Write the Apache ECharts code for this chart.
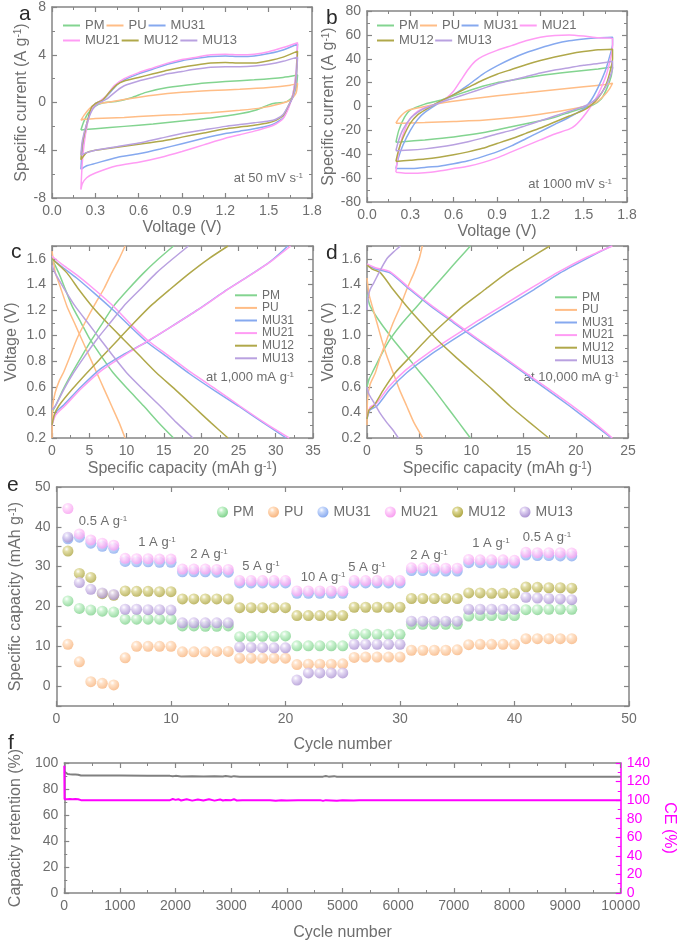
<!DOCTYPE html>
<html>
<head>
<meta charset="utf-8">
<script src="https://cdn.jsdelivr.net/npm/echarts@6/dist/echarts.min.js"></script>
<style>html,body{margin:0;padding:0;background:#fff}#view{width:685px;height:946px}</style>
</head>
<body>
<div id="view"></div>
<script>
var samples = ['PM', 'PU', 'MU31', 'MU21', 'MU12', 'MU13'];
var lineColors = ['#83d490', '#ffbd86', '#86a9ef', '#ff9cf4', '#b0a84a', '#b9a1e0'];
var ballColors = [['#c4f2ca', '#7ccf89'], ['#ffdcbd', '#f7b27b'], ['#c8d9fb', '#84a7ee'],
                  ['#ffd4fb', '#f79bef'], ['#dcd792', '#aba33f'], ['#dfd1f2', '#a88fd0']];

// (a) CV at 50 mV/s : [V, A/g]
var cvA_PM = [[0.2,-2.3],[0.22,-1.6],[0.25,-0.9],[0.3,-0.3],[0.35,-0.05],[0.45,0.1],[0.55,0.4],[0.65,0.85],[0.8,1.25],[1.0,1.55],[1.2,1.75],[1.4,1.9],[1.6,2.1],[1.7,2.3],[1.69,1.2],[1.66,0.4],[1.62,0.05],[1.55,-0.05],[1.5,-0.2],[1.42,-0.6],[1.3,-0.95],[1.1,-1.3],[0.9,-1.55],[0.7,-1.8],[0.5,-2.0],[0.3,-2.2],[0.2,-2.3]];
var cvA_PU = [[0.2,-1.5],[0.22,-1.1],[0.26,-0.5],[0.3,-0.15],[0.4,0.05],[0.5,0.25],[0.7,0.6],[0.9,0.85],[1.1,1.0],[1.3,1.1],[1.5,1.25],[1.65,1.45],[1.7,1.6],[1.69,0.8],[1.65,0.2],[1.58,-0.1],[1.45,-0.45],[1.3,-0.65],[1.1,-0.85],[0.9,-1.0],[0.7,-1.1],[0.5,-1.25],[0.3,-1.35],[0.22,-1.4],[0.2,-1.5]];
var cvA_MU31 = [[0.2,-5.6],[0.21,-4],[0.24,-2],[0.27,-0.6],[0.3,-0.1],[0.35,0.2],[0.4,0.8],[0.45,1.5],[0.5,1.9],[0.6,2.4],[0.7,2.8],[0.8,3.2],[0.9,3.5],[1.0,3.7],[1.1,3.85],[1.2,3.9],[1.3,3.85],[1.4,3.9],[1.5,4.1],[1.6,4.4],[1.7,4.9],[1.69,2.5],[1.67,0.8],[1.64,-0.3],[1.6,-1.3],[1.55,-1.7],[1.5,-1.95],[1.4,-2.2],[1.3,-2.4],[1.2,-2.6],[1.05,-3.0],[0.9,-3.45],[0.75,-3.9],[0.6,-4.3],[0.45,-4.6],[0.3,-5.1],[0.24,-5.3],[0.2,-5.6]];
var cvA_MU21 = [[0.2,-7.3],[0.21,-5],[0.23,-2.8],[0.26,-1.0],[0.29,-0.2],[0.33,0.1],[0.38,0.6],[0.43,1.4],[0.5,2.0],[0.6,2.5],[0.7,2.9],[0.8,3.3],[0.9,3.6],[1.0,3.8],[1.1,4.0],[1.2,4.05],[1.3,4.0],[1.4,4.05],[1.5,4.25],[1.6,4.6],[1.7,5.0],[1.69,2.5],[1.67,0.8],[1.64,-0.4],[1.6,-1.35],[1.55,-1.8],[1.5,-2.05],[1.4,-2.4],[1.3,-2.7],[1.2,-3.0],[1.05,-3.55],[0.9,-4.1],[0.75,-4.6],[0.6,-5.0],[0.45,-5.3],[0.3,-5.9],[0.24,-6.3],[0.21,-6.8],[0.2,-7.3]];
var cvA_MU12 = [[0.2,-4.8],[0.21,-3.5],[0.24,-1.8],[0.27,-0.5],[0.3,-0.1],[0.35,0.2],[0.4,0.9],[0.45,1.5],[0.5,1.8],[0.6,2.1],[0.7,2.4],[0.8,2.7],[0.9,2.95],[1.0,3.15],[1.1,3.3],[1.2,3.35],[1.3,3.3],[1.4,3.3],[1.5,3.5],[1.6,3.8],[1.7,4.3],[1.69,2.0],[1.67,0.6],[1.64,-0.2],[1.6,-1.1],[1.55,-1.5],[1.5,-1.7],[1.4,-1.9],[1.3,-2.05],[1.2,-2.2],[1.05,-2.55],[0.9,-2.9],[0.75,-3.25],[0.6,-3.5],[0.45,-3.75],[0.3,-4.0],[0.24,-4.2],[0.2,-4.8]];
var cvA_MU13 = [[0.2,-4.4],[0.21,-3.2],[0.24,-1.8],[0.28,-0.6],[0.32,-0.1],[0.38,0.3],[0.45,1.0],[0.5,1.4],[0.6,1.8],[0.7,2.1],[0.8,2.4],[0.9,2.6],[1.0,2.8],[1.1,2.95],[1.2,3.0],[1.3,3.0],[1.4,3.05],[1.5,3.2],[1.6,3.45],[1.7,3.8],[1.69,1.8],[1.67,0.5],[1.64,-0.2],[1.6,-1.0],[1.55,-1.4],[1.5,-1.55],[1.4,-1.7],[1.3,-1.85],[1.2,-2.0],[1.05,-2.3],[0.9,-2.6],[0.75,-3.0],[0.6,-3.4],[0.45,-3.7],[0.3,-4.0],[0.24,-4.2],[0.2,-4.4]];

// (b) CV at 1000 mV/s
var cvB_PM = [[0.2,-30],[0.22,-20],[0.26,-9],[0.3,-3],[0.4,2],[0.5,5],[0.6,9],[0.7,13],[0.8,17],[0.9,20],[1.0,22],[1.2,26],[1.4,29],[1.6,31.5],[1.7,33],[1.69,25],[1.66,15],[1.62,6],[1.56,1],[1.5,-1],[1.4,-5],[1.3,-9],[1.2,-12],[1.0,-17],[0.8,-22],[0.6,-25.5],[0.4,-28],[0.25,-29.5],[0.2,-30]];
var cvB_PU = [[0.2,-14],[0.22,-10],[0.26,-5],[0.3,-2.5],[0.4,0],[0.5,2.5],[0.7,6],[0.9,9],[1.1,11.5],[1.3,14],[1.5,16.5],[1.65,18.5],[1.7,19.5],[1.68,15],[1.64,9],[1.58,3],[1.5,0],[1.4,-2.5],[1.2,-6.5],[1.0,-9.5],[0.8,-11.5],[0.6,-12.5],[0.4,-13.5],[0.25,-14],[0.2,-14]];
var cvB_MU31 = [[0.2,-52],[0.22,-42],[0.25,-32],[0.3,-20],[0.35,-11],[0.4,-5],[0.5,3],[0.6,10],[0.7,18],[0.8,27],[0.9,34],[1.0,40],[1.1,45],[1.2,49],[1.3,52.5],[1.4,55],[1.5,56.5],[1.6,57.5],[1.7,58],[1.7,52],[1.68,42],[1.65,30],[1.6,16],[1.55,5],[1.5,-2],[1.4,-9],[1.3,-15],[1.2,-21],[1.1,-27],[1.0,-33],[0.9,-38],[0.8,-42],[0.7,-45.5],[0.6,-48],[0.5,-50],[0.4,-51],[0.3,-52],[0.2,-52]];
var cvB_MU21 = [[0.2,-55],[0.21,-45],[0.23,-32],[0.26,-20],[0.3,-10],[0.35,-4],[0.4,-1],[0.5,3],[0.55,7],[0.6,13],[0.65,22],[0.7,31],[0.75,38],[0.8,42],[0.9,47],[1.0,51],[1.1,55],[1.2,58],[1.3,59.5],[1.4,60],[1.5,59],[1.6,57.5],[1.7,57],[1.7,50],[1.68,37],[1.65,24],[1.6,10],[1.56,2],[1.52,-5],[1.48,-11],[1.44,-16],[1.4,-19],[1.3,-23],[1.2,-28],[1.1,-33],[1.0,-38],[0.9,-43],[0.8,-47],[0.7,-50],[0.6,-52],[0.5,-54],[0.4,-55.5],[0.3,-56],[0.2,-55]];
var cvB_MU12 = [[0.2,-46],[0.22,-36],[0.25,-26],[0.3,-14],[0.35,-7],[0.4,-3],[0.5,4],[0.6,10],[0.7,16],[0.8,22],[0.9,27],[1.0,31],[1.1,35],[1.2,38.5],[1.3,41.5],[1.4,44],[1.5,46],[1.6,47.5],[1.7,48],[1.7,40],[1.68,28],[1.65,17],[1.6,7],[1.55,1],[1.5,-3],[1.4,-8],[1.3,-13],[1.2,-18],[1.1,-22.5],[1.0,-27],[0.9,-31],[0.8,-35],[0.7,-38],[0.6,-40.5],[0.5,-42.5],[0.4,-44],[0.3,-45],[0.2,-46]];
var cvB_MU13 = [[0.2,-37],[0.22,-28],[0.25,-19],[0.3,-10],[0.35,-5],[0.4,-1.5],[0.5,3],[0.6,7],[0.7,11],[0.8,15],[0.9,19],[1.0,22],[1.1,25],[1.2,28],[1.3,30.5],[1.4,32.5],[1.5,34.5],[1.6,36],[1.7,38],[1.7,32],[1.68,24],[1.65,16],[1.6,8],[1.55,3],[1.5,0],[1.4,-4],[1.3,-8],[1.2,-12],[1.1,-16],[1.0,-20],[0.9,-23],[0.8,-26.5],[0.7,-29.5],[0.6,-32],[0.5,-34],[0.4,-35.5],[0.3,-36.5],[0.2,-37]];

// (c) GCD at 1,000 mA/g : [mAh/g, V], charge then discharge
var gcdC_PM = [[0,0.4],[0.45,0.45],[1.5,0.58],[2.7,0.71],[4,0.84],[5.35,0.97],[6.8,1.1],[8.25,1.23],[10.2,1.36],[12.3,1.49],[14.3,1.6],[16.3,1.7]];
var gcdC_PM_d = [[0,1.6],[0.9,1.49],[1.8,1.36],[2.7,1.23],[3.9,1.1],[5.1,0.97],[6.6,0.84],[8.2,0.71],[10.2,0.58],[12.3,0.45],[14.3,0.32],[16.3,0.2]];
var gcdC_PU = [[0,0.2],[0.1,0.45],[0.4,0.55],[1,0.65],[1.6,0.72],[2.5,0.85],[3.3,0.97],[4.5,1.11],[5.8,1.25],[7,1.37],[8,1.49],[9,1.6],[9.8,1.7]];
var gcdC_PU_d = [[0,1.66],[0.45,1.49],[1,1.4],[2,1.23],[3,1.1],[4,0.97],[5,0.84],[6,0.71],[7,0.58],[8,0.45],[9,0.32],[9.8,0.2]];
var gcdC_MU31 = [[0,0.3],[0.5,0.4],[1.6,0.46],[3.9,0.6],[6.5,0.74],[9.5,0.85],[12.7,0.95],[16,1.07],[19.5,1.2],[23,1.34],[26.5,1.47],[29.3,1.58],[31.6,1.7]];
var gcdC_MU31_d = [[0,1.6],[1.5,1.53],[3.3,1.45],[5.7,1.33],[8.2,1.2],[10.5,1.07],[12.7,0.95],[15.5,0.83],[18.5,0.7],[21.8,0.57],[25,0.45],[28.3,0.32],[31.4,0.2]];
var gcdC_MU21 = [[0,0.3],[0.5,0.38],[1.7,0.45],[4.0,0.59],[6.7,0.73],[9.8,0.85],[12.9,0.96],[16.3,1.08],[19.8,1.21],[23.3,1.35],[26.8,1.48],[29.6,1.59],[32.0,1.7]];
var gcdC_MU21_d = [[0,1.62],[1.5,1.55],[3.4,1.47],[5.9,1.35],[8.4,1.22],[10.7,1.08],[12.9,0.96],[15.7,0.84],[18.7,0.71],[22.0,0.58],[25.2,0.45],[28.5,0.32],[31.8,0.2]];
var gcdC_MU12 = [[0,0.3],[0.3,0.38],[0.9,0.45],[2.7,0.58],[4.7,0.71],[6.8,0.84],[8.9,0.97],[11,1.1],[13.2,1.23],[15.8,1.36],[18.5,1.49],[21,1.6],[23.6,1.7]];
var gcdC_MU12_d = [[0,1.6],[2.0,1.49],[3.6,1.36],[5.35,1.23],[7.4,1.1],[9.6,0.97],[11.8,0.84],[14.0,0.71],[16.5,0.58],[18.9,0.45],[21.3,0.32],[23.6,0.2]];
var gcdC_MU13 = [[0,0.42],[0.45,0.45],[1.6,0.58],[2.9,0.71],[4.4,0.84],[6.0,0.97],[7.8,1.1],[9.6,1.23],[11.8,1.36],[14.0,1.49],[16.2,1.6],[18.3,1.7]];
var gcdC_MU13_d = [[0,1.55],[0.4,1.49],[1.7,1.36],[3.1,1.23],[4.8,1.1],[6.5,0.97],[8.2,0.84],[10.0,0.71],[12.2,0.58],[14.5,0.45],[16.7,0.32],[18.9,0.2]];

// (d) GCD at 10,000 mA/g
var gcdD_PM = [[0,0.6],[0.2,0.66],[0.5,0.71],[1.3,0.84],[2.2,0.97],[3.4,1.1],[4.8,1.23],[6.2,1.36],[7.6,1.49],[8.8,1.6],[9.9,1.7]];
var gcdD_PM_d = [[0,1.32],[0.3,1.23],[1.3,1.1],[2.5,0.97],[3.8,0.84],[5.1,0.71],[6.4,0.58],[7.6,0.45],[8.8,0.32],[9.9,0.2]];
var gcdD_PU = [[0,0.3],[0.05,0.5],[0.3,0.62],[0.8,0.71],[1.3,0.84],[1.9,0.97],[2.5,1.1],[3.2,1.23],[3.8,1.36],[4.5,1.49],[5.0,1.6],[5.3,1.7]];
var gcdD_PU_d = [[0,1.45],[0.2,1.32],[0.5,1.23],[0.95,1.1],[1.4,0.97],[1.9,0.84],[2.5,0.71],[3.1,0.58],[3.8,0.45],[4.5,0.32],[5.35,0.2]];
var gcdD_MU31 = [[0,0.35],[0.3,0.42],[0.96,0.45],[2.2,0.58],[3.8,0.71],[5.9,0.84],[8.3,0.97],[10.8,1.1],[13.4,1.23],[16,1.36],[18.5,1.49],[21.0,1.6],[23.4,1.7]];
var gcdD_MU31_d = [[0,1.55],[0.8,1.52],[2.2,1.49],[4.1,1.36],[6.1,1.23],[8.3,1.1],[10.5,0.97],[12.8,0.84],[15.0,0.71],[17.2,0.58],[19.4,0.45],[21.5,0.32],[23.4,0.2]];
var gcdD_MU21 = [[0,0.36],[0.3,0.44],[0.9,0.47],[2.1,0.6],[3.7,0.73],[5.8,0.86],[8.2,0.99],[10.7,1.12],[13.3,1.25],[15.9,1.38],[18.4,1.5],[21,1.61],[23.5,1.7]];
var gcdD_MU21_d = [[0,1.56],[0.8,1.53],[2.2,1.5],[4.1,1.37],[6.1,1.24],[8.3,1.11],[10.5,0.98],[12.8,0.85],[15.0,0.72],[17.3,0.59],[19.5,0.46],[21.6,0.33],[23.5,0.2]];
var gcdD_MU12 = [[0,0.35],[0.2,0.42],[0.64,0.45],[1.6,0.58],[2.7,0.71],[4.2,0.84],[5.7,0.97],[7.4,1.1],[9.2,1.23],[11.3,1.36],[13.4,1.49],[15.5,1.6],[17.5,1.7]];
var gcdD_MU12_d = [[0,1.55],[0.5,1.52],[1.3,1.49],[2.5,1.36],[3.8,1.23],[5.2,1.1],[6.7,0.97],[8.4,0.84],[10.2,0.71],[12.0,0.58],[13.7,0.45],[15.6,0.32],[17.4,0.2]];
var gcdD_MU13 = [[0,1.2],[0.1,1.3],[0.3,1.36],[0.64,1.41],[1.2,1.5],[1.9,1.6],[2.5,1.65],[3.2,1.7]];
var gcdD_MU13_d = [[0,0.6],[0.2,0.54],[0.64,0.48],[1.2,0.4],[1.9,0.32],[2.5,0.26],[3.0,0.2]];

// (e) rate capability, mAh/g per cycle
var cycles = [1,2,3,4,5,6,7,8,9,10,11,12,13,14,15,16,17,18,19,20,21,22,23,24,25,26,27,28,29,30,31,32,33,34,35,36,37,38,39,40,41,42,43,44,45];
var rate_PM = [21.4,19.5,19.1,18.8,18.6, 16.8,16.8,16.8,16.8,16.8, 15.1,15.1,15.0,15.0,15.1, 12.4,12.5,12.5,12.5,12.6, 10.1,10.1,10.1,10.1,10.1, 13.0,13.1,13.0,13.0,13.0, 15.5,15.5,15.5,15.5,15.5, 17.6,17.7,17.7,17.7,17.7, 19.2,19.2,19.3,19.3,19.3];
var rate_PU = [10.5,6.1,1.1,0.7,0.3, 7.1,10.0,10.0,10.0,10.0, 8.6,8.6,8.6,8.7,8.7, 7.0,7.0,7.0,7.0,7.0, 5.4,5.5,5.5,5.5,5.6, 7.2,7.3,7.3,7.3,7.3, 9.0,9.0,9.0,9.0,9.1, 10.4,10.5,10.5,10.5,10.5, 11.9,11.9,11.9,11.9,11.9];
var rate_MU31 = [37.0,37.4,35.9,35.1,34.6, 31.3,31.2,31.2,31.1,31.1, 28.7,28.7,28.7,28.6,28.6, 25.9,25.9,25.9,25.9,25.9, 23.3,23.3,23.3,23.3,23.3, 25.9,25.9,25.9,25.9,25.9, 29.0,29.0,28.9,28.9,28.9, 31.0,31.0,30.9,30.9,30.9, 32.9,32.8,32.8,32.7,32.7];
var rate_MU21 = [44.6,38.2,36.7,35.9,35.4, 32.1,32.0,32.0,31.9,31.9, 29.4,29.4,29.4,29.3,29.3, 26.5,26.5,26.5,26.5,26.5, 23.9,23.9,23.9,23.9,23.9, 26.5,26.5,26.5,26.5,26.5, 29.7,29.7,29.6,29.6,29.6, 31.8,31.7,31.7,31.7,31.6, 33.6,33.5,33.5,33.5,33.4];
var rate_MU12 = [33.9,28.3,27.3,23.2,22.8, 23.9,23.8,23.8,23.7,23.7, 21.9,21.9,21.9,21.9,21.9, 19.7,19.7,19.7,19.7,19.7, 17.7,17.7,17.7,17.7,17.7, 19.8,19.8,19.8,19.8,19.8, 22.0,22.0,22.0,22.0,22.0, 23.4,23.4,23.3,23.3,23.3, 24.9,24.8,24.7,24.7,24.6];
var rate_MU13 = [37.4,26.0,24.3,23.4,23.0, 19.3,19.3,19.2,19.2,19.1, 15.9,15.9,15.9,15.9,15.9, 9.8,9.7,9.7,9.6,9.6, 1.5,3.3,3.3,3.3,3.3, 10.5,10.5,10.5,10.5,10.5, 16.3,16.3,16.3,16.3,16.3, 19.3,19.3,19.3,19.3,19.3, 22.3,22.1,22.0,21.9,21.7];
var rateLabels = ['0.5 A g', '1 A g', '2 A g', '5 A g', '10 A g', '5 A g', '2 A g', '1 A g', '0.5 A g'];

// (f) long cycling
var retCycles = [1,10,30,60,100,150,200,250,280,300,600,1000,1500,1900,1950,2000,2100,2300,2500,2700,2850,2900,3000,3050,3150,3200,4000,4650,4700,4750,4850,4900,5000,6000,7000,8000,9000,10000];
var retention = [93.5,92.6,92.0,91.5,91.3,91.2,91.1,91.0,90.6,90.4,90.3,90.3,90.2,90.1,89.8,90.1,89.7,89.9,89.6,89.9,89.6,90.0,89.5,89.9,89.5,89.5,89.5,89.5,90.0,89.5,89.9,89.5,89.5,89.5,89.5,89.4,89.4,89.4];
var ceCycles = [1,5,20,50,100,150,200,250,270,300,1000,1900,1950,2000,2050,2100,2200,2300,2400,2500,2600,2700,2800,2850,2900,3000,3050,3100,3200,3700,3800,3900,4000,4200,4600,4650,4700,4900,5000,5200,5300,6000,8000,10000];
var ce = [137,101,101.5,101,101.3,101,101.2,101,100.5,100,100,100,101.2,100.3,101,99.6,101,99.5,100.8,99.6,101,99.5,100.8,99.6,100.2,100,101,99.6,100,100,99.4,100,99.5,100,100,99.2,100,99.4,100,99.6,100,100,100,100];

var myChart = echarts.init(document.getElementById('view'));
var TX = '#6e6e6e', AX = '#858585', MAG = '#ff00ff', FONT = 'Liberation Sans';
var SUP = { s: { fontSize: 10, verticalAlign: 'top', color: TX, fontFamily: FONT } };

var grids = [
    { left: 52, top: 7, width: 260, height: 191 },
    { left: 367, top: 11, width: 260, height: 191 },
    { left: 52, top: 246, width: 261, height: 192 },
    { left: 367, top: 246, width: 261, height: 192 },
    { left: 52, top: 487, width: 577, height: 219 },
    { left: 52, top: 763, width: 577, height: 130 }
];

var f1 = function (v) { return v.toFixed(1); };
var plain = function (v) { return String(v); };
function every(step, dec) {
    return function (v) {
        var k = v / step;
        return (Math.abs(k - Math.round(k)) < 1e-6 && v > -1e-9) ? v.toFixed(dec) : '';
    };
}

var xAxes = [], yAxes = [];
function axis(gi, o, pos, main) {
    var col = o.color || AX;
    return {
        gridIndex: gi, type: 'value', position: pos,
        min: o.min, max: o.max, interval: o.interval,
        name: main ? o.name : '', nameLocation: 'middle', nameGap: o.gap, nameRotate: o.rotate,
        nameTextStyle: { color: o.nameColor || TX, fontSize: 16, fontFamily: FONT, rich: SUP },
        axisLine: { show: true, onZero: false, lineStyle: { color: col, width: 1.5 } },
        axisTick: { show: true, inside: true, length: 5, lineStyle: { color: col, width: 1.2 } },
        minorTick: { show: !!o.minor, splitNumber: o.minor || 2, length: 3, lineStyle: { color: col, width: 1 } },
        axisLabel: { show: main, color: o.labelColor || TX, fontSize: 14, fontFamily: FONT, margin: 6, formatter: o.fmt || plain },
        splitLine: { show: false }
    };
}
function box(gi, xo, yo, yo2) {
    var r = { x: xAxes.length, y: yAxes.length };
    xAxes.push(axis(gi, xo, 'bottom', true), axis(gi, xo, 'top', false));
    yAxes.push(axis(gi, yo, 'left', true), yo2 ? axis(gi, yo2, 'right', true) : axis(gi, yo, 'right', false));
    return r;
}

var axA = box(0, { min: 0, max: 1.8, interval: 0.3, minor: 2, fmt: f1, name: 'Voltage (V)', gap: 22 },
                 { min: -8, max: 8, interval: 4, minor: 2, name: 'Specific current (A g{s|-1})', gap: 22 });
var axB = box(1, { min: 0, max: 1.8, interval: 0.3, minor: 2, fmt: f1, name: 'Voltage (V)', gap: 22 },
                 { min: -80, max: 80, interval: 20, minor: 2, name: 'Specific current (A g{s|-1})', gap: 26 });
var axC = box(2, { min: 0, max: 35, interval: 5, minor: 2, name: 'Specific capacity (mAh g{s|-1})', gap: 23 },
                 { min: 0.2, max: 1.7, interval: 0.2, minor: 2, fmt: every(0.2, 1), name: 'Voltage (V)', gap: 32 });
var axD = box(3, { min: 0, max: 25, interval: 5, minor: 2, name: 'Specific capacity (mAh g{s|-1})', gap: 23 },
                 { min: 0.2, max: 1.7, interval: 0.2, minor: 2, fmt: every(0.2, 1), name: 'Voltage (V)', gap: 30 });
var axE = box(4, { min: 0, max: 50, interval: 10, minor: 2, name: 'Cycle number', gap: 31 },
                 { min: -5, max: 50, interval: 5, fmt: every(10, 0), name: 'Specific capacity (mAh g{s|-1})', gap: 32 });
var axF = box(5, { min: 0, max: 10000, interval: 1000, minor: 2, name: 'Cycle number', gap: 32 },
                 { min: 0, max: 100, interval: 20, minor: 2, name: 'Capacity retention (%)', gap: 36 },
                 { min: 0, max: 140, interval: 20, minor: 2, name: 'CE (%)', gap: 36, rotate: -90,
                   color: MAG, labelColor: MAG, nameColor: MAG });

function curve(name, i, data, ax) {
    return {
        name: name, type: 'line', xAxisIndex: ax.x, yAxisIndex: ax.y, data: data,
        showSymbol: false, symbol: 'none', smooth: 0.2, silent: true,
        lineStyle: { color: lineColors[i], width: 1.5 }, itemStyle: { color: lineColors[i] }
    };
}
function ball(c) {
    return { type: 'radial', x: 0.38, y: 0.32, r: 0.72,
        colorStops: [{ offset: 0, color: '#ffffff' }, { offset: 0.3, color: c[0] }, { offset: 1, color: c[1] }] };
}

var cvA = [cvA_PM, cvA_PU, cvA_MU31, cvA_MU21, cvA_MU12, cvA_MU13];
var cvB = [cvB_PM, cvB_PU, cvB_MU31, cvB_MU21, cvB_MU12, cvB_MU13];
var gcdC = [[gcdC_PM, gcdC_PM_d], [gcdC_PU, gcdC_PU_d], [gcdC_MU31, gcdC_MU31_d], [gcdC_MU21, gcdC_MU21_d], [gcdC_MU12, gcdC_MU12_d], [gcdC_MU13, gcdC_MU13_d]];
var gcdD = [[gcdD_PM, gcdD_PM_d], [gcdD_PU, gcdD_PU_d], [gcdD_MU31, gcdD_MU31_d], [gcdD_MU21, gcdD_MU21_d], [gcdD_MU12, gcdD_MU12_d], [gcdD_MU13, gcdD_MU13_d]];
var rates = [rate_PM, rate_PU, rate_MU31, rate_MU21, rate_MU12, rate_MU13];

var series = [];
samples.forEach(function (s, i) { series.push(curve(s, i, cvA[i], axA)); });
samples.forEach(function (s, i) { series.push(curve(s, i, cvB[i], axB)); });
samples.forEach(function (s, i) {
    series.push(curve(s, i, gcdC[i][0], axC), curve(s, i, gcdC[i][1], axC));
});
samples.forEach(function (s, i) {
    series.push(curve(s, i, gcdD[i][0], axD), curve(s, i, gcdD[i][1], axD));
});
samples.forEach(function (s, i) {
    series.push({
        name: s, type: 'scatter', xAxisIndex: axE.x, yAxisIndex: axE.y, symbolSize: 11, silent: true,
        data: cycles.map(function (c, k) { return [c, rates[i][k]]; }),
        itemStyle: { color: ball(ballColors[i]) }
    });
});
series.push({
    name: 'retention', type: 'line', xAxisIndex: axF.x, yAxisIndex: axF.y, showSymbol: false, silent: true,
    data: retCycles.map(function (c, k) { return [c, retention[k]]; }),
    lineStyle: { color: '#808080', width: 2 }, itemStyle: { color: '#808080' }
});
series.push({
    name: 'CE', type: 'line', xAxisIndex: axF.x, yAxisIndex: axF.y + 1, showSymbol: false, silent: true,
    data: ceCycles.map(function (c, k) { return [c, ce[k]]; }),
    lineStyle: { color: MAG, width: 2 }, itemStyle: { color: MAG }
});

function lineLegend(left, top, names, gap, w) {
    return {
        left: left, top: top, padding: 0, icon: 'rect', itemWidth: 17, itemHeight: 2, itemGap: gap,
        selectedMode: false, data: names,
        textStyle: { color: TX, fontSize: 13, fontFamily: FONT, width: w }
    };
}
function vLegend(left, top) {
    return {
        left: left, top: top, padding: 0, orient: 'vertical', icon: 'rect', itemWidth: 22, itemHeight: 2,
        itemGap: 0, selectedMode: false, data: samples,
        textStyle: { color: TX, fontSize: 12, fontFamily: FONT, lineHeight: 12.6 }
    };
}
var legends = [
    lineLegend(63, 19, ['PM', 'PU', 'MU31'], 2, 32),
    lineLegend(63, 34, ['MU21', 'MU12', 'MU13'], 2, 32),
    lineLegend(377, 19, ['PM', 'PU', 'MU31', 'MU21'], 1.5, 32),
    lineLegend(377, 34, ['MU12', 'MU13'], 1.5, 32),
    vLegend(235, 289),
    vLegend(555, 291),
    {
        left: 217, top: 505, padding: 0, icon: 'circle', itemWidth: 11, itemHeight: 11, itemGap: 14,
        selectedMode: false,
        data: samples.map(function (s, i) { return { name: s, itemStyle: { color: ball(ballColors[i]) } }; }),
        textStyle: { color: TX, fontSize: 14, fontFamily: FONT }
    }
];

function txt(x, y, text, align, size, color) {
    return {
        type: 'text', x: x, y: y, silent: true,
        style: {
            text: text, fill: color || TX, font: size + 'px ' + FONT, align: align, verticalAlign: 'middle',
            rich: { s: { fontSize: Math.round(size * 0.65), verticalAlign: 'top', fill: color || TX, fontFamily: FONT },
                    n: { fontSize: size, fill: color || TX, fontFamily: FONT } }
        }
    };
}
var rateLabelPos = [[103, 521], [157, 542], [209, 554], [261, 566], [323, 577], [367, 567], [429, 555], [491, 543], [547, 537]];
var graphics = [
    txt(19, 14, 'a', 'left', 21, '#2a2a2a'),
    txt(326, 18, 'b', 'left', 21, '#2a2a2a'),
    txt(11, 252, 'c', 'left', 21, '#2a2a2a'),
    txt(326, 253, 'd', 'left', 21, '#2a2a2a'),
    txt(7, 485, 'e', 'left', 21, '#2a2a2a'),
    txt(8, 743, 'f', 'left', 21, '#2a2a2a'),
    txt(303, 178, '{n|at 50 mV s}{s|-1}', 'right', 13),
    txt(612, 184, '{n|at 1000 mV s}{s|-1}', 'right', 13),
    txt(294, 377, '{n|at 1,000 mA g}{s|-1}', 'right', 13),
    txt(619, 377, '{n|at 10,000 mA g}{s|-1}', 'right', 13)
];
rateLabels.forEach(function (t, k) {
    graphics.push(txt(rateLabelPos[k][0], rateLabelPos[k][1], '{n|' + t + '}{s|-1}', 'center', 13));
});

var option = {
    animation: false,
    textStyle: { fontFamily: FONT },
    grid: grids,
    xAxis: xAxes,
    yAxis: yAxes,
    legend: legends,
    graphic: graphics,
    series: series
};
myChart.setOption(option);
</script>
</body>
</html>
